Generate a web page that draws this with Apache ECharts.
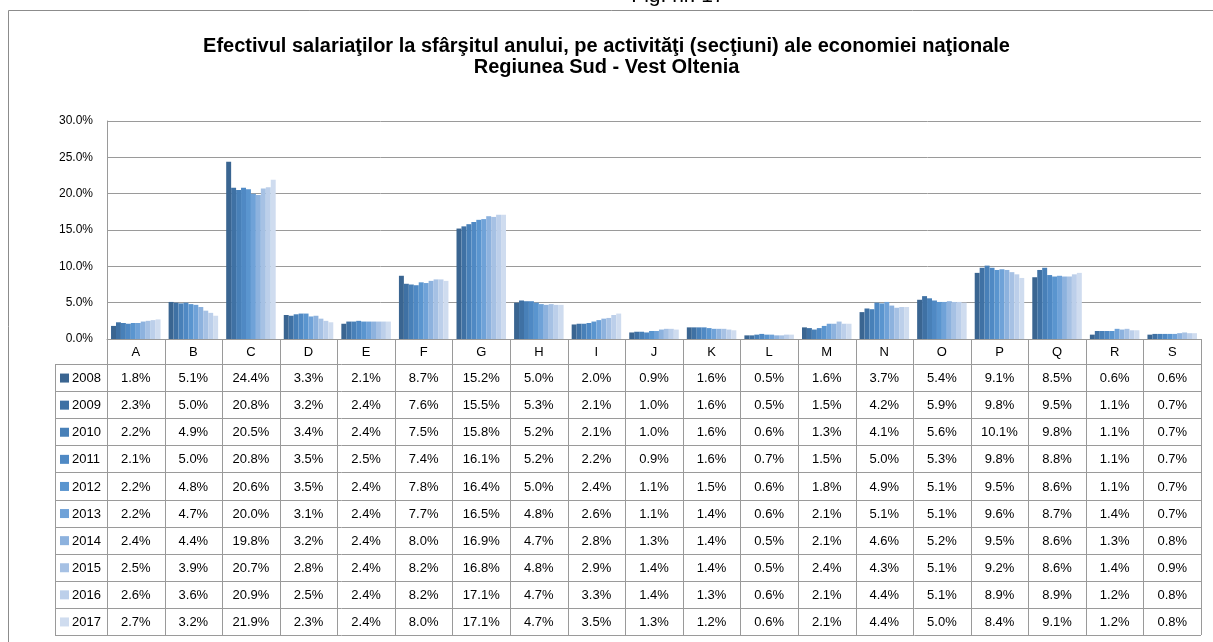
<!DOCTYPE html>
<html>
<head>
<meta charset="utf-8">
<script src="https://cdn.jsdelivr.net/npm/echarts@6/dist/echarts.min.js"></script>
<style>
  html, body { margin: 0; padding: 0; background: #fff; }
  #chart { width: 1213px; height: 642px; }
</style>
</head>
<body>
<div id="chart"></div>
<script>
// categorii (secţiuni CAEN)
const cats = ['A','B','C','D','E','F','G','H','I','J','K','L','M','N','O','P','Q','R','S'];
const years = ['2008','2009','2010','2011','2012','2013','2014','2015','2016','2017'];
const yTicks = [0, 5, 10, 15, 20, 25, 30];

// valori (%) pe ani
const v2008 = [1.8, 5.1, 24.4, 3.3, 2.1, 8.7, 15.2, 5.0, 2.0, 0.9, 1.6, 0.5, 1.6, 3.7, 5.4, 9.1, 8.5, 0.6, 0.6];
const v2009 = [2.3, 5.0, 20.8, 3.2, 2.4, 7.6, 15.5, 5.3, 2.1, 1.0, 1.6, 0.5, 1.5, 4.2, 5.9, 9.8, 9.5, 1.1, 0.7];
const v2010 = [2.2, 4.9, 20.5, 3.4, 2.4, 7.5, 15.8, 5.2, 2.1, 1.0, 1.6, 0.6, 1.3, 4.1, 5.6, 10.1, 9.8, 1.1, 0.7];
const v2011 = [2.1, 5.0, 20.8, 3.5, 2.5, 7.4, 16.1, 5.2, 2.2, 0.9, 1.6, 0.7, 1.5, 5.0, 5.3, 9.8, 8.8, 1.1, 0.7];
const v2012 = [2.2, 4.8, 20.6, 3.5, 2.4, 7.8, 16.4, 5.0, 2.4, 1.1, 1.5, 0.6, 1.8, 4.9, 5.1, 9.5, 8.6, 1.1, 0.7];
const v2013 = [2.2, 4.7, 20.0, 3.1, 2.4, 7.7, 16.5, 4.8, 2.6, 1.1, 1.4, 0.6, 2.1, 5.1, 5.1, 9.6, 8.7, 1.4, 0.7];
const v2014 = [2.4, 4.4, 19.8, 3.2, 2.4, 8.0, 16.9, 4.7, 2.8, 1.3, 1.4, 0.5, 2.1, 4.6, 5.2, 9.5, 8.6, 1.3, 0.8];
const v2015 = [2.5, 3.9, 20.7, 2.8, 2.4, 8.2, 16.8, 4.8, 2.9, 1.4, 1.4, 0.5, 2.4, 4.3, 5.1, 9.2, 8.6, 1.4, 0.9];
const v2016 = [2.6, 3.6, 20.9, 2.5, 2.4, 8.2, 17.1, 4.7, 3.3, 1.4, 1.3, 0.6, 2.1, 4.4, 5.1, 8.9, 8.9, 1.2, 0.8];
const v2017 = [2.7, 3.2, 21.9, 2.3, 2.4, 8.0, 17.1, 4.7, 3.5, 1.3, 1.2, 0.6, 2.1, 4.4, 5.0, 8.4, 9.1, 1.2, 0.8];
const values = [v2008, v2009, v2010, v2011, v2012, v2013, v2014, v2015, v2016, v2017];

const colors = ['#3a6591', '#3f71a4', '#4880b8', '#4f89c4', '#5a95cf', '#6fa2d8',
                '#8db2de', '#a6c1e4', '#bccfea', '#cfdcef'];

// layout (grid + tabel de date)
const gL = 107, gR = 1201, gT = 121, gB = 339;
const headH = 25, rowH = 27.1, keyL = 55;
const colW = (gR - gL) / cats.length;
const tblBottom = gB + headH + rowH * years.length;
const lineCol = '#9a9a9a';
const cellFont = '13px "Liberation Sans", Arial';

const fmt = v => v.toFixed(1) + '%';

let myChart = echarts.init(document.getElementById('chart'));

let graphic = [];
// chenar exterior
graphic.push({ type: 'rect', shape: { x: 8.5, y: 10.5, width: 1230, height: 650 },
  style: { fill: 'none', stroke: '#8c8c8c', lineWidth: 1 }, z: 1 });
// Fig. nr. (tăiat sus)
graphic.push({ type: 'text', x: 678, y: -4,
  style: { text: 'Fig. nr. 17', font: '21px "Liberation Sans", Arial', fill: '#000',
    textAlign: 'center', textVerticalAlign: 'middle' } });

// linii orizontale tabel
for (let i = 0; i <= years.length; i++) {
  let y = Math.round(gB + headH + i * rowH) + 0.5;
  graphic.push({ type: 'line', shape: { x1: keyL, y1: y, x2: gR, y2: y },
    style: { stroke: lineCol, lineWidth: 1 } });
}
// linii verticale tabel
for (let j = 0; j <= cats.length; j++) {
  let x = Math.round(gL + j * colW) + 0.5;
  graphic.push({ type: 'line', shape: { x1: x, y1: gB, x2: x, y2: tblBottom },
    style: { stroke: lineCol, lineWidth: 1 } });
}
graphic.push({ type: 'line', shape: { x1: keyL + 0.5, y1: gB + headH, x2: keyL + 0.5, y2: tblBottom },
  style: { stroke: lineCol, lineWidth: 1 } });

// antet categorii
cats.forEach((c, j) => {
  graphic.push({ type: 'text', x: gL + (j + 0.5) * colW, y: gB + headH / 2 + 1,
    style: { text: c, font: cellFont, fill: '#000',
      textAlign: 'center', textVerticalAlign: 'middle' } });
});
// rânduri: legendă + valori
years.forEach((yr, i) => {
  let cy = gB + headH + (i + 0.5) * rowH + 1;
  graphic.push({ type: 'rect', shape: { x: 60, y: cy - 5, width: 9, height: 9 },
    style: { fill: colors[i] } });
  graphic.push({ type: 'text', x: 72, y: cy,
    style: { text: yr, font: cellFont, fill: '#000',
      textAlign: 'left', textVerticalAlign: 'middle' } });
  values[i].forEach((v, j) => {
    graphic.push({ type: 'text', x: gL + (j + 0.5) * colW, y: cy,
      style: { text: fmt(v), font: cellFont, fill: '#000',
        textAlign: 'center', textVerticalAlign: 'middle' } });
  });
});

let option = {
  animation: false,
  backgroundColor: '#fff',
  title: {
    text: 'Efectivul salariaţilor la sfârşitul anului, pe activităţi (secţiuni) ale economiei naţionale\nRegiunea Sud - Vest Oltenia',
    left: 'center',
    top: 31,
    textStyle: {
      fontFamily: '"Liberation Sans", Arial',
      fontSize: 20,
      fontWeight: 'bold',
      color: '#000',
      lineHeight: 21
    }
  },
  grid: { left: gL, top: gT, width: gR - gL, height: gB - gT, containLabel: false },
  xAxis: {
    type: 'category',
    data: cats,
    axisLine: { show: true, lineStyle: { color: lineCol, width: 1 } },
    axisTick: { show: false },
    axisLabel: { show: false },
    splitLine: { show: false }
  },
  yAxis: {
    type: 'value',
    min: yTicks[0],
    max: yTicks[yTicks.length - 1],
    interval: 5,
    axisLine: { show: true, lineStyle: { color: lineCol, width: 1 } },
    axisTick: { show: false },
    axisLabel: {
      formatter: v => fmt(v),
      color: '#000',
      fontFamily: '"Liberation Sans", Arial',
      fontSize: 12,
      margin: 14
    },
    splitLine: { show: true, lineStyle: { color: lineCol, width: 1 } }
  },
  series: years.map((yr, i) => ({
    name: yr,
    type: 'bar',
    data: values[i],
    barGap: '0%',
    barCategoryGap: '14%',
    itemStyle: { color: colors[i] }
  })),
  graphic: graphic
};

myChart.setOption(option, true);
</script>
</body>
</html>
